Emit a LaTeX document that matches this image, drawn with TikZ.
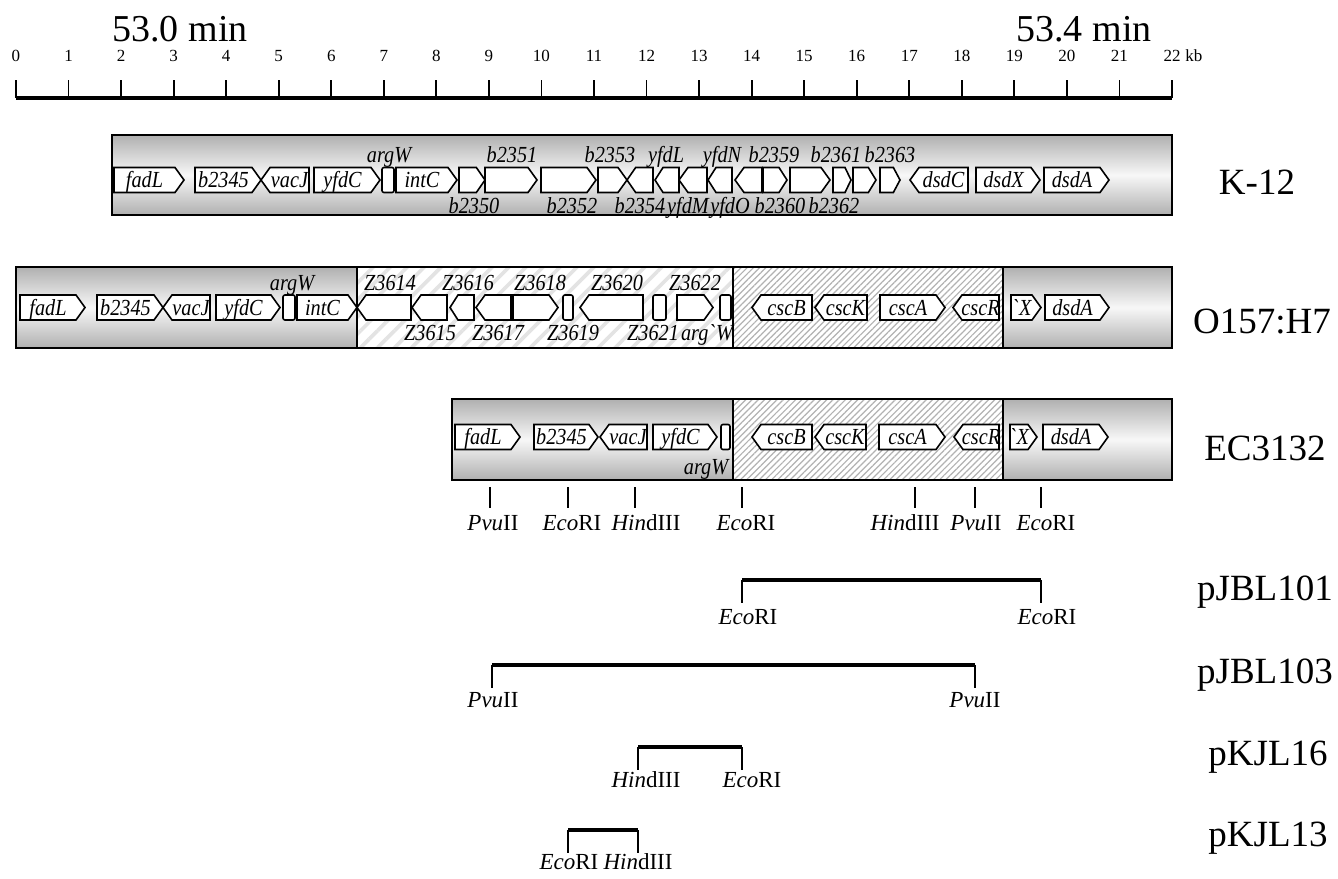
\documentclass[tikz,border=0pt]{standalone}
\usepackage{fontspec}
\setmainfont{Liberation Serif}
\newfontfamily\genefam{Liberation Serif}[FakeStretch=0.88]
\usetikzlibrary{patterns.meta}

\newcommand{\genefont}{\genefam\fontsize{11.5}{12}\selectfont\itshape}
\newcommand{\sitefont}{\fontsize{11.5}{12}\selectfont}
\newcommand{\strainfont}{\fontsize{18.5}{20}\selectfont}
\newcommand{\enzPvu}{\textit{Pvu}II}
\newcommand{\enzEco}{\textit{Eco}RI}
\newcommand{\enzHind}{\textit{Hin}dIII}

\begin{document}
\begin{tikzpicture}[
    x=0.5pt, y=-0.5pt,
    gene/.style={draw=black, line width=0.8pt, fill=white},
    genetext/.style={font=\genefont, inner sep=0pt, anchor=base},
    chrom/.style={draw=black, line width=1.1pt},
    divider/.style={draw=black, line width=0.7pt},
    shadegray/.style={top color=gray!62, bottom color=gray!62, middle color=gray!6},
    lighthatch/.style={pattern={Lines[angle=45,distance=6pt,line width=1.8pt]}, pattern color=gray!22},
    densehatch/.style={pattern={Lines[angle=45,distance=2.2pt,line width=0.6pt]}, pattern color=gray!60},
    strain/.style={font=\strainfont},
    site/.style={font=\sitefont},
    ruler/.style={line width=0.9pt},
    insert/.style={line width=1.7pt},
    leg/.style={line width=0.6pt}
  ]
  \useasboundingbox (0,0) rectangle (1338,878);

  % scale bar
  \draw[line width=1.8pt] (16,98) -- (1172,98);
  \foreach \i in {0,...,22} {
    \draw[ruler] ({16+52.545*\i},80) -- ({16+52.545*\i},98);
    \node[font=\fontsize{8.5}{9}\selectfont, inner sep=0pt] (kb\i) at ({16+52.545*\i},56) {\i};
  }
  \node[font=\fontsize{8.5}{9}\selectfont, anchor=west, inner sep=0pt] (kbunit) at ([xshift=2pt]kb22.east) {kb};
  \node[font=\fontsize{19}{20}\selectfont, inner sep=0pt] (min0) at (180,29) {53.0 min};
  \node[font=\fontsize{19}{20}\selectfont, inner sep=0pt] (min4) at (1084,29) {53.4 min};

  % K-12
  \path[shadegray] (112,135) rectangle (1172,215);
  \draw[chrom] (112,135) rectangle (1172,215);
  \def\gy{180}
  \foreach \xa/\xb/\txt in {114/184/fadL, 195/261/b2345, 314/380/yfdC, 396/457/intC,
      459/485/{}, 485/537/{}, 541/596/{}, 598/627/{}, 763/787/{}, 790/830/{},
      833/851/{}, 853/876/{}, 880/900/{}, 976/1040/dsdX, 1044/1109/dsdA} {
    \pgfmathsetmacro\tp{min(9,(\xb-\xa)/3)}
    \draw[gene] (\xa,\gy-12.5) -- (\xb-\tp,\gy-12.5) -- (\xb,\gy) -- (\xb-\tp,\gy+12.5) -- (\xa,\gy+12.5) -- cycle;
    \node[genetext] (k12g\xa) at ({(\xa+\xb-\tp)/2},\gy+7.5) {\txt};
  }
  \foreach \xa/\xb/\txt in {261/309/vacJ, 627/653/{}, 655/679/{}, 679/707/{},
      708/732/{}, 735/762/{}, 910/968/dsdC} {
    \pgfmathsetmacro\tp{min(9,(\xb-\xa)/3)}
    \draw[gene] (\xb,\gy-12.5) -- (\xa+\tp,\gy-12.5) -- (\xa,\gy) -- (\xa+\tp,\gy+12.5) -- (\xb,\gy+12.5) -- cycle;
    \node[genetext] (k12g\xa) at ({(\xa+\xb+\tp)/2},\gy+7.5) {\txt};
  }
  \draw[gene, rounded corners=1pt] (382,\gy-12.5) rectangle (394,\gy+12.5);
  \foreach \lx/\txt in {389/argW, 512/b2351, 610/b2353, 666/yfdL, 722/yfdN,
      774/b2359, 836/b2361, 890/b2363}
    \node[genetext] (k12up\lx) at (\lx,162) {\txt};
  \foreach \lx/\txt in {474/b2350, 572/b2352, 640/b2354, 688/yfdM, 730/yfdO,
      780/b2360, 834/b2362}
    \node[genetext] (k12dn\lx) at (\lx,213) {\txt};
  \node[strain] (k12) at (1257,182) {K-12};

  % O157:H7
  \path[shadegray] (16,267) rectangle (357,348);
  \fill[white] (357,267) rectangle (1003,348);
  \path[lighthatch] (357,267) rectangle (733,348);
  \path[densehatch] (733,267) rectangle (1003,348);
  \path[shadegray] (1003,267) rectangle (1172,348);
  \draw[chrom] (16,267) rectangle (1172,348);
  \foreach \dx in {357,733,1003}
    \draw[divider] (\dx,267) -- (\dx,348);
  \def\gy{307.5}
  \foreach \xa/\xb/\txt in {20/85/fadL, 97/163/b2345, 216/280/yfdC, 297/357/intC,
      513/558/{}, 677/713/{}, 880/945/cscA, 1011/1041/\textasciigrave X, 1045/1109/dsdA} {
    \pgfmathsetmacro\tp{min(9,(\xb-\xa)/3)}
    \draw[gene] (\xa,\gy-12.5) -- (\xb-\tp,\gy-12.5) -- (\xb,\gy) -- (\xb-\tp,\gy+12.5) -- (\xa,\gy+12.5) -- cycle;
    \node[genetext] (o157g\xa) at ({(\xa+\xb-\tp)/2},\gy+7.5) {\txt};
  }
  \foreach \xa/\xb/\txt in {163/210/vacJ, 357/411/{}, 412/447/{}, 450/474/{},
      476/511/{}, 580/643/{}, 752/812/cscB, 815/867/cscK, 953/999/cscR} {
    \pgfmathsetmacro\tp{min(9,(\xb-\xa)/3)}
    \draw[gene] (\xb,\gy-12.5) -- (\xa+\tp,\gy-12.5) -- (\xa,\gy) -- (\xa+\tp,\gy+12.5) -- (\xb,\gy+12.5) -- cycle;
    \node[genetext] (o157g\xa) at ({(\xa+\xb+\tp)/2},\gy+7.5) {\txt};
  }
  \foreach \xa/\xb in {283/295, 563/573, 653/666, 720/731}
    \draw[gene, rounded corners=1pt] (\xa,\gy-12.5) rectangle (\xb,\gy+12.5);
  \foreach \lx/\txt in {292/argW, 390/Z3614, 468/Z3616, 540/Z3618, 617/Z3620, 695/Z3622}
    \node[genetext] (o157up\lx) at (\lx,290) {\txt};
  \foreach \lx/\txt in {430/Z3615, 498/Z3617, 573/Z3619, 653/Z3621, 707/arg\textasciigrave W}
    \node[genetext] (o157dn\lx) at (\lx,340) {\txt};
  \node[strain] (o157) at (1262,322) {O157:H7};

  % EC3132
  \path[shadegray] (452,399) rectangle (733,480);
  \fill[white] (733,399) rectangle (1003,480);
  \path[densehatch] (733,399) rectangle (1003,480);
  \path[shadegray] (1003,399) rectangle (1172,480);
  \draw[chrom] (452,399) rectangle (1172,480);
  \foreach \dx in {733,1003}
    \draw[divider] (\dx,399) -- (\dx,480);
  \def\gy{437}
  \foreach \xa/\xb/\txt in {455/520/fadL, 534/598/b2345, 653/717/yfdC,
      879/945/cscA, 1010/1037/\textasciigrave X, 1043/1108/dsdA} {
    \pgfmathsetmacro\tp{min(9,(\xb-\xa)/3)}
    \draw[gene] (\xa,\gy-12.5) -- (\xb-\tp,\gy-12.5) -- (\xb,\gy) -- (\xb-\tp,\gy+12.5) -- (\xa,\gy+12.5) -- cycle;
    \node[genetext] (ecg\xa) at ({(\xa+\xb-\tp)/2},\gy+7.5) {\txt};
  }
  \foreach \xa/\xb/\txt in {600/647/vacJ, 752/812/cscB, 815/866/cscK, 954/999/cscR} {
    \pgfmathsetmacro\tp{min(9,(\xb-\xa)/3)}
    \draw[gene] (\xb,\gy-12.5) -- (\xa+\tp,\gy-12.5) -- (\xa,\gy) -- (\xa+\tp,\gy+12.5) -- (\xb,\gy+12.5) -- cycle;
    \node[genetext] (ecg\xa) at ({(\xa+\xb+\tp)/2},\gy+7.5) {\txt};
  }
  \draw[gene, rounded corners=1pt] (721,\gy-12.5) rectangle (730,\gy+12.5);
  \node[genetext] (ecargW) at (706,474) {argW};
  \node[strain] (ec3132) at (1265,448) {EC3132};

  % restriction sites
  \foreach \sx/\lx/\txt in {490/493/\enzPvu, 568/572/\enzEco, 635/646/\enzHind,
      742/746/\enzEco, 915/905/\enzHind, 975/976/\enzPvu, 1041/1046/\enzEco} {
    \draw[leg] (\sx,487) -- (\sx,508);
    \node[site] (site\sx) at (\lx,523) {\txt};
  }

  % cloned fragments
  \coordinate (j101a) at (742,580);
  \coordinate (j101b) at (1041,580);
  \draw[insert] (j101a) -- (j101b);
  \draw[leg] (j101a) -- ++(0,23);
  \draw[leg] (j101b) -- ++(0,23);
  \node[site] (j101l) at (748,617) {\enzEco};
  \node[site] (j101r) at (1047,617) {\enzEco};
  \node[strain] (pjbl101) at (1265,592) {pJBL101};

  \coordinate (j103a) at (492,665);
  \coordinate (j103b) at (975,665);
  \draw[insert] (j103a) -- (j103b);
  \draw[leg] (j103a) -- ++(0,23);
  \draw[leg] (j103b) -- ++(0,23);
  \node[site] (j103l) at (493,700) {\enzPvu};
  \node[site] (j103r) at (975,700) {\enzPvu};
  \node[strain] (pjbl103) at (1265,675) {pJBL103};

  \coordinate (k16a) at (638,747);
  \coordinate (k16b) at (742,747);
  \draw[insert] (k16a) -- (k16b);
  \draw[leg] (k16a) -- ++(0,23);
  \draw[leg] (k16b) -- ++(0,23);
  \node[site] (k16l) at (646,780) {\enzHind};
  \node[site] (k16r) at (752,780) {\enzEco};
  \node[strain] (pkjl16) at (1268,757) {pKJL16};

  \coordinate (k13a) at (568,830);
  \coordinate (k13b) at (638,830);
  \draw[insert] (k13a) -- (k13b);
  \draw[leg] (k13a) -- ++(0,23);
  \draw[leg] (k13b) -- ++(0,23);
  \node[site] (k13l) at (569,862) {\enzEco};
  \node[site] (k13r) at (638,862) {\enzHind};
  \node[strain] (pkjl13) at (1268,838) {pKJL13};
\end{tikzpicture}
\end{document}
